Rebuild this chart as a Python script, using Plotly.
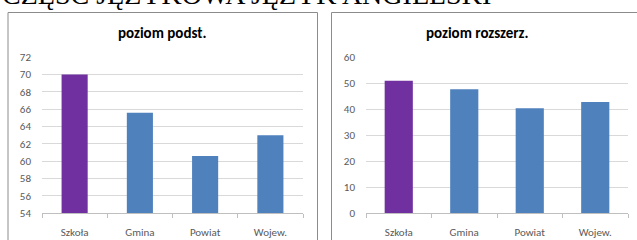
import plotly.graph_objects as go

categories = ["Szkoła", "Gmina", "Powiat", "Wojew."]
basic_values = [70.0, 65.6, 60.6, 63.0]
extended_values = [51.0, 47.7, 40.4, 42.8]
bar_colors = ["#7030A0", "#4F81BD", "#4F81BD", "#4F81BD"]
basic_ticks = list(range(54, 73, 2))
extended_ticks = list(range(0, 61, 10))
panel_titles = ["poziom podst.", "poziom rozszerz."]
heading = "CZĘŚĆ JĘZYKOWA JĘZYK ANGIELSKI"

W, H = 637, 240
def px(x):
    return x / W
def py(y):
    return (H - y) / H

fig = go.Figure()
fig.add_trace(go.Bar(x=categories, y=basic_values, marker_color=bar_colors,
                     marker_line_width=0, width=0.4, xaxis="x", yaxis="y"))
fig.add_trace(go.Bar(x=categories, y=extended_values, marker_color=bar_colors,
                     marker_line_width=0, width=0.43, xaxis="x2", yaxis="y2"))

axis_font = dict(family="Carlito, 'Open Sans', sans-serif", size=11, color="#595959")
xcommon = dict(showgrid=False, showline=True, linecolor="#BFBFBF", linewidth=1,
               ticks="outside", ticklen=4, tickcolor="#BFBFBF", tickson="boundaries",
               tickfont=axis_font, ticklabelstandoff=9, automargin=False)
ycommon = dict(showgrid=True, gridcolor="#D9D9D9", gridwidth=1, showline=False,
               ticks="", tickfont=axis_font, zeroline=False, ticklabelstandoff=10,
               automargin=False)

title_font = dict(family="Carlito, 'Open Sans', sans-serif", size=15, color="#000000")

fig.update_layout(
    width=W, height=H,
    margin=dict(l=0, r=0, t=0, b=0, pad=0, autoexpand=False),
    paper_bgcolor="white", plot_bgcolor="white",
    showlegend=False,
    xaxis=dict(domain=[px(42), px(303)], anchor="y", **xcommon),
    yaxis=dict(domain=[py(213), py(57.3)], anchor="x", range=[54, 72],
               tickvals=basic_ticks, **ycommon),
    xaxis2=dict(domain=[px(366), px(628)], anchor="y2", **xcommon),
    yaxis2=dict(domain=[py(213), py(57.3)], anchor="x2", range=[0, 60],
                tickvals=extended_ticks, **ycommon),
    shapes=[
        dict(type="rect", xref="paper", yref="paper", x0=px(8), x1=px(317.5),
             y0=py(241), y1=py(12.5), line=dict(color="#8C8C8C", width=1)),
        dict(type="rect", xref="paper", yref="paper", x0=px(331.5), x1=px(640),
             y0=py(241), y1=py(12.5), line=dict(color="#8C8C8C", width=1)),
    ],
    annotations=[
        dict(text=f"<b>{panel_titles[0]}</b>", xref="paper", yref="paper",
             x=px(162), y=py(33), xanchor="center", yanchor="middle", showarrow=False,
             font=title_font),
        dict(text=f"<b>{panel_titles[1]}</b>", xref="paper", yref="paper",
             x=px(477), y=py(33), xanchor="center", yanchor="middle", showarrow=False,
             font=title_font),
        dict(text=heading, xref="paper", yref="paper", x=px(0), y=py(-6),
             xanchor="left", yanchor="middle", showarrow=False,
             font=dict(family="Liberation Serif, serif", size=28, color="#000000")),
    ],
)

fig.write_html("out.html", config={"displayModeBar": False},
               post_script="document.body.style.margin='0';")
